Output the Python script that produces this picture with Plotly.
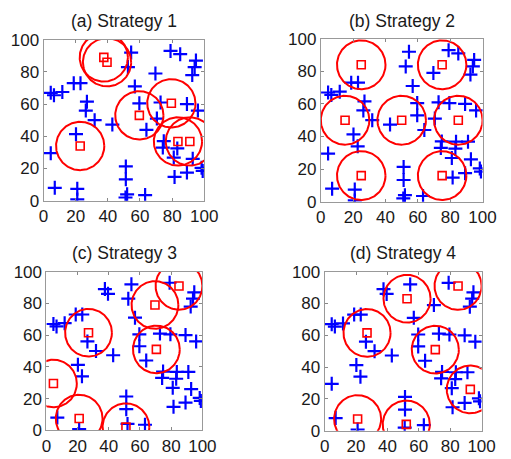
import numpy as np
import plotly.graph_objects as go

# Users (blue +), shared by all panels
user_x = [54.5, 52.5, 79, 85, 94.8, 94, 92.5, 69.6, 56.8, 59.6, 72.8, 79.5, 89.2, 96,
          59.6, 64, 70.5, 4.5, 6.5, 11.7, 18.8, 23, 27, 26.3, 31.8, 42.8, 20.2, 22.8,
          4.5, 7, 21, 21, 51.2, 51.2, 52, 51, 63.2, 74.8, 74.2, 83.6, 83.2, 81, 81.5,
          89.2, 91, 92.8, 98.3, 99, 37.5, 39.5]
user_y = [92, 83, 93, 91, 87, 83, 78, 79, 71, 60.5, 61, 60.5, 60, 56,
          53, 44, 51, 67, 65.5, 67.5, 73, 73, 61.5, 56, 50, 47.3, 41.3, 34,
          29.5, 8, 7.4, 0.8, 21.3, 13.3, 4, 2, 3.5, 37, 33, 36.8, 32.5, 26.8, 14.8,
          17.5, 36.8, 26, 20.4, 18.5, 89, 86]

# Base stations (red squares): strategies 1, 3, 4 place them on users (indices)
bs1_users = [48, 49, 14, 11, 27, 39, 44]
bs3_users = [3, 7, 16, 22, 28, 30, 35]
bs4_users = [1, 3, 22, 16, 45, 30, 34]
# Strategy 2: fixed grid positions
bs2_x = [25, 75, 15, 50, 85, 25, 75]
bs2_y = [84, 84, 50, 50, 50, 16, 16]
users_absent_b = [48, 49]
coverage_radius = 15

titles = ["(a) Strategy 1", "(b) Strategy 2", "(c) Strategy 3", "(d) Strategy 4"]
ticks = [0, 20, 40, 60, 80, 100]


def panel(bs_idx=None, bs_xy=None, absent=()):
    if bs_idx is not None:
        bx = [user_x[k] for k in bs_idx]
        by = [user_y[k] for k in bs_idx]
        skip = set(bs_idx)
    else:
        bx, by = bs_xy
        skip = set(absent)
    ux = [v for k, v in enumerate(user_x) if k not in skip]
    uy = [v for k, v in enumerate(user_y) if k not in skip]
    return bx, by, ux, uy


panels = [panel(bs_idx=bs1_users), panel(bs_xy=(bs2_x, bs2_y), absent=users_absent_b),
          panel(bs_idx=bs3_users), panel(bs_idx=bs4_users)]

W, H = 511, 459
# frames in pixels: (left, right, top, bottom)
frames = [(40, 207, 32, 200), (328, 496, 31, 201), (43, 205, 274, 439.5), (332, 495, 274, 440)]

fig = go.Figure()
FONT = "Liberation Sans, Arial, sans-serif"
theta = np.linspace(0, 2 * np.pi, 181)

for i, ((bx, by, ux, uy), title, fr) in enumerate(zip(panels, titles, frames)):
    n = i + 1
    xa = "x" if n == 1 else f"x{n}"
    ya = "y" if n == 1 else f"y{n}"
    fig.add_trace(go.Scatter(
        x=ux, y=uy, mode="markers",
        marker=dict(symbol="cross-thin", size=10, line=dict(color="#0000ff", width=2.2)),
        xaxis=xa, yaxis=ya, showlegend=False))
    for cx, cy in zip(bx, by):
        fig.add_trace(go.Scatter(
            x=cx + coverage_radius * np.cos(theta), y=cy + coverage_radius * np.sin(theta),
            mode="lines", line=dict(color="#ff0000", width=2),
            xaxis=xa, yaxis=ya, showlegend=False, hoverinfo="skip"))
    fig.add_trace(go.Scatter(
        x=bx, y=by, mode="markers",
        marker=dict(symbol="square-open", size=8, color="#ff0000", line=dict(width=1.6)),
        xaxis=xa, yaxis=ya, showlegend=False))

    l, r, t, b = fr
    xd = [l / W, r / W]
    yd = [1 - b / H, 1 - t / H]
    axis_common = dict(range=[0, 100], tickvals=ticks, ticks="inside", ticklen=3,
                       tickcolor="#888", showgrid=False, zeroline=False,
                       showline=True, linecolor="#999", linewidth=1, mirror="ticks",
                       tickfont=dict(family=FONT, size=17, color="#1a1a1a"),
                       fixedrange=True)
    fig.layout[("xaxis" if n == 1 else f"xaxis{n}")] = dict(
        domain=xd, anchor=ya, **axis_common)
    fig.layout[("yaxis" if n == 1 else f"yaxis{n}")] = dict(
        domain=yd, anchor=xa, **axis_common)
    fig.add_annotation(text=title, x=(l + r) / 2 / W, y=1 - (t - 19) / H,
                       xref="paper", yref="paper", showarrow=False,
                       xanchor="center", yanchor="middle",
                       font=dict(family=FONT, size=17.5, color="#1a1a1a"))

fig.update_layout(width=W, height=H, margin=dict(l=0, r=0, t=0, b=0),
                  plot_bgcolor="white", paper_bgcolor="white")
fig.write_html("out.html")
